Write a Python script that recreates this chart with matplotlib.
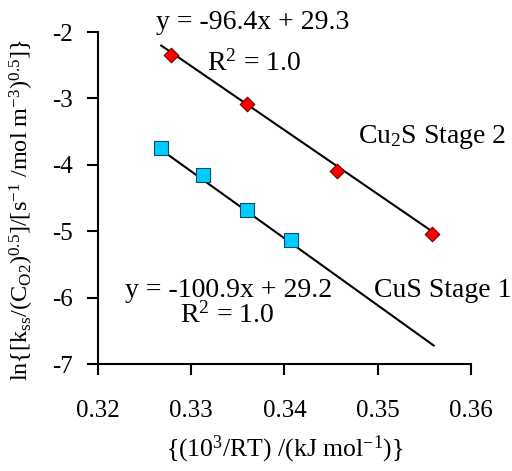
import matplotlib
matplotlib.use("Agg")
import matplotlib.pyplot as plt
import numpy as np

plt.rcParams['font.family'] = ['Liberation Serif', 'DejaVu Serif']
plt.rcParams['mathtext.fontset'] = 'custom'
plt.rcParams['mathtext.rm'] = 'Liberation Serif'
plt.rcParams['mathtext.it'] = 'Liberation Serif:italic'

# Stage 1 (CuS) and stage 2 (Cu2S) points
cus_x = [0.3268, 0.3313, 0.3360, 0.3407]
cus_y = [-3.75, -4.15, -4.68, -5.13]
cu2s_x = [0.3278, 0.3360, 0.3456, 0.3558]
cu2s_y = [-2.35, -3.09, -4.10, -5.04]

# linear fits as reported
cus_fit = (-100.9, 29.2)
cu2s_fit = (-96.4, 29.3)
fit_range = (0.3268, 0.3560)

fig = plt.figure(figsize=(5.12, 4.71), dpi=100)
ax = fig.add_axes([0.191, 0.227, 0.729, 0.705])

xs = np.array(fit_range)
ax.plot(xs, cu2s_fit[0] * xs + cu2s_fit[1], color='black', lw=1.5, zorder=2)
ax.plot(xs, cus_fit[0] * xs + cus_fit[1], color='black', lw=1.5, zorder=2)

ax.scatter(cu2s_x, cu2s_y, marker='D', s=55, color='#ff0000',
           edgecolor='#700000', linewidth=0.8, zorder=3)
ax.scatter(cus_x, cus_y, marker='s', s=110, color='#00ccff',
           edgecolor='#005070', linewidth=0.8, zorder=3)

ax.set_xlim(0.32, 0.36)
ax.set_ylim(-7, -2)
ax.set_xticks([0.32, 0.33, 0.34, 0.35, 0.36])
ax.set_xticklabels(['0.32', '0.33', '0.34', '0.35', '0.36'])
ax.set_yticks([-7, -6, -5, -4, -3, -2])
ax.set_yticklabels(['-7', '-6', '-5', '-4', '-3', '-2'])

for s in ['top', 'right']:
    ax.spines[s].set_visible(False)
for s in ['left', 'bottom']:
    ax.spines[s].set_linewidth(1.5)
ax.tick_params(direction='out', length=8, width=1.5, labelsize=18)
ax.tick_params(axis='y', pad=10)
ax.tick_params(axis='x', pad=18)

ax.set_xlabel(r'{(10$^{3}$/RT) /(kJ mol$^{\mathregular{-1}}$)}', fontsize=18.5, labelpad=8)
ax.set_ylabel(r'ln{[k$_{\mathregular{ss}}$/(C$_{\mathregular{O2}}$)$^{\mathregular{0.5}}$]/[s$^{\mathregular{-1}}$ /mol m$^{\mathregular{-3}}$)$^{\mathregular{0.5}}$]}',
              fontsize=17.5)
ax.yaxis.set_label_coords(-0.165, 0.465)

txt = dict(fontsize=20, ha='center', va='center', clip_on=False)
ax.text(0.3366, -1.85, 'y = -96.4x + 29.3', **txt)
ax.text(0.3367, -2.47, r'R$^{\mathregular{2}}$ = 1.0', **txt)
ax.text(0.3558, -3.58, r'Cu$_{\mathregular{2}}$S Stage 2', **txt)
ax.text(0.3340, -5.89, 'y = -100.9x + 29.2', **txt)
ax.text(0.3339, -6.26, r'R$^{\mathregular{2}}$ = 1.0', **txt)
ax.text(0.3570, -5.89, 'CuS Stage 1', **txt)

fig.savefig('out.png', dpi=100)
